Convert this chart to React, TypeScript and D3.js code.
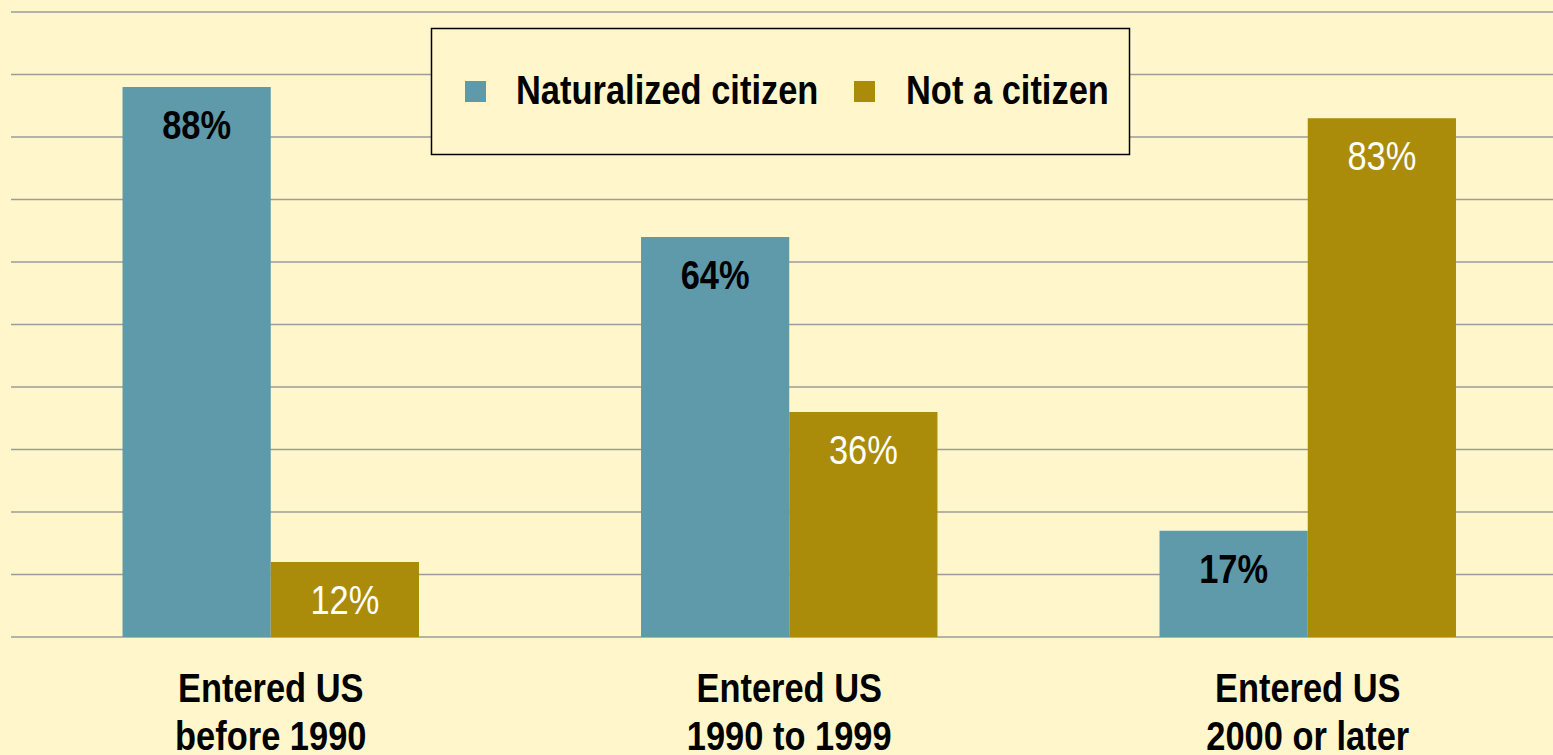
import React, {useEffect, useRef} from 'react';
import * as d3 from 'd3';

// Chart data
const categories = ['before 1990', '1990 to 1999', '2000 or later'];
const seriesNames = ['Naturalized citizen', 'Not a citizen'];
const naturalized = [88, 64, 17];
const notCitizen = [12, 36, 83];
const yTicks = [0, 10, 20, 30, 40, 50, 60, 70, 80, 90, 100];

const WIDTH = 1553;
const HEIGHT = 755;
const FONT = '"Liberation Sans", Arial, sans-serif';
const NARROW = 0.84; // no narrow font installed, squeeze horizontally instead
const BG = '#FFF7CB';
const COLORS = ['#5F9AAB', '#AA8C0A'];

export default function App() {
  const svgRef = useRef<SVGSVGElement>(null);

  useEffect(() => {
    if (!svgRef.current) return;
    const root = d3.select(svgRef.current);
    root.selectAll('*').remove();

    const svg = root.attr('width', WIDTH).attr('height', HEIGHT);

    svg.append('rect').attr('width', WIDTH).attr('height', HEIGHT).attr('fill', BG);

    // Scales
    const x0 = d3.scaleBand<string>().domain(categories).range([11.5, 1567]).padding(0);
    const x1 = d3
      .scaleBand<string>()
      .domain(seriesNames)
      .range([0, x0.bandwidth()])
      .paddingInner(0)
      .paddingOuter(0.749);
    const y = d3.scaleLinear().domain([0, 100]).range([637, 12]);

    const at = (x: number, yy: number) => `translate(${x},${yy}) scale(${NARROW},1)`;

    // Grid lines
    svg
      .append('g')
      .selectAll('line')
      .data(yTicks)
      .join('line')
      .attr('x1', 11)
      .attr('x2', WIDTH)
      .attr('y1', (d) => y(d))
      .attr('y2', (d) => y(d))
      .attr('stroke', '#9C9C98')
      .attr('stroke-width', 1.5);

    const rows = categories.map((c, i) => ({
      cat: c,
      values: [naturalized[i], notCitizen[i]],
    }));

    // Bars
    const groups = svg
      .append('g')
      .selectAll('g')
      .data(rows)
      .join('g')
      .attr('transform', (d) => `translate(${x0(d.cat)},0)`);

    groups
      .selectAll('rect')
      .data((d) => d.values.map((v, k) => ({key: seriesNames[k], v, k})))
      .join('rect')
      .attr('x', (d) => x1(d.key)!)
      .attr('width', x1.bandwidth())
      .attr('y', (d) => y(d.v))
      .attr('height', (d) => y(0) - y(d.v))
      .attr('fill', (d) => COLORS[d.k]);

    // Value labels
    groups
      .selectAll('text')
      .data((d) => d.values.map((v, k) => ({key: seriesNames[k], v, k})))
      .join('text')
      .attr('transform', (d) => at(x1(d.key)! + x1.bandwidth() / 2, y(d.v) + 52))
      .attr('text-anchor', 'middle')
      .attr('font-family', FONT)
      .attr('font-size', 41)
      .attr('font-weight', (d) => (d.k === 0 ? 'bold' : 'normal'))
      .attr('fill', (d) => (d.k === 0 ? '#000' : '#fff'))
      .text((d) => `${d.v}%`);

    // Category labels
    const catLabels = svg
      .append('g')
      .selectAll('g')
      .data(categories)
      .join('g')
      .attr('font-family', FONT)
      .attr('font-size', 41)
      .attr('font-weight', 'bold')
      .attr('fill', '#000')
      .attr('text-anchor', 'middle');
    catLabels
      .append('text')
      .attr('transform', (d) => at(x0(d)! + x0.bandwidth() / 2, 702))
      .text('Entered US');
    catLabels
      .append('text')
      .attr('transform', (d) => at(x0(d)! + x0.bandwidth() / 2, 750))
      .text((d) => d);

    // Legend
    const legend = svg.append('g');
    legend
      .append('rect')
      .attr('x', 431.5)
      .attr('y', 28.5)
      .attr('width', 698)
      .attr('height', 126)
      .attr('fill', BG)
      .attr('stroke', '#000')
      .attr('stroke-width', 1.5);

    const legendX = [465, 854];
    const items = legend
      .selectAll('g')
      .data(seriesNames)
      .join('g')
      .attr('transform', (_, i) => `translate(${legendX[i]},81)`);
    items
      .append('rect')
      .attr('width', 21)
      .attr('height', 21)
      .attr('fill', (_, i) => COLORS[i]);
    items
      .append('text')
      .attr('transform', (_, i) => at(i === 0 ? 51 : 52, 23))
      .attr('font-family', FONT)
      .attr('font-size', 41)
      .attr('font-weight', 'bold')
      .attr('fill', '#000')
      .text((d) => d);
  }, []);

  return (
    <div style={{position: 'fixed', left: 0, top: 0, width: WIDTH, height: HEIGHT}}>
      <svg ref={svgRef} style={{display: 'block'}} />
    </div>
  );
}
